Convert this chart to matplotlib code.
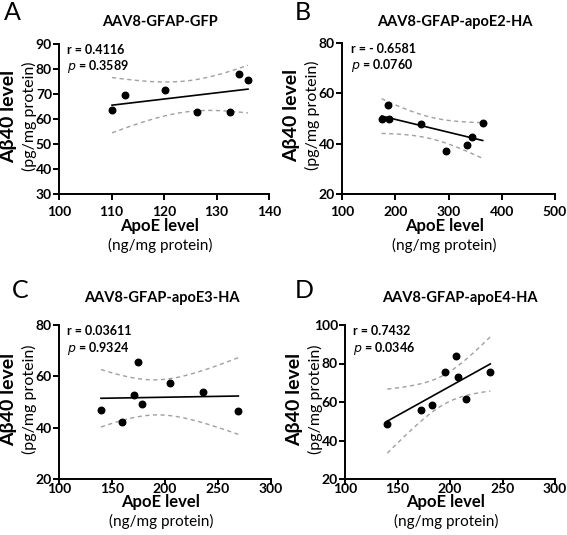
import numpy as np
import matplotlib
matplotlib.use("Agg")
import matplotlib.pyplot as plt

plt.rcParams["font.family"] = ["Lato", "DejaVu Sans"]

# panel A: AAV8-GFAP-GFP
apoe_a = [110.1, 112.6, 120.1, 126.2, 132.5, 134.3, 136.0]
abeta_a = [63.5, 69.6, 71.6, 62.7, 62.7, 78.1, 75.6]
# panel B: AAV8-GFAP-apoE2-HA
apoe_b = [174.3, 186.2, 187.5, 247.7, 296.0, 335.5, 343.7, 364.3]
abeta_b = [49.7, 55.4, 49.7, 47.8, 37.0, 39.5, 42.6, 48.2]
# panel C: AAV8-GFAP-apoE3-HA
apoe_c = [139.6, 159.7, 170.8, 174.2, 178.0, 204.7, 235.8, 269.2]
abeta_c = [47.0, 42.3, 52.6, 65.6, 49.1, 57.4, 53.9, 46.5]
# panel D: AAV8-GFAP-apoE4-HA
apoe_d = [140.3, 172.0, 183.0, 195.6, 205.7, 207.5, 215.7, 238.4]
abeta_d = [48.7, 55.7, 58.3, 75.5, 84.0, 72.9, 61.7, 75.7]

letters = ["A", "B", "C", "D"]
titles = ["AAV8-GFAP-GFP", "AAV8-GFAP-apoE2-HA", "AAV8-GFAP-apoE3-HA", "AAV8-GFAP-apoE4-HA"]
r_text = ["0.4116", "- 0.6581", "0.03611", "0.7432"]
p_text = ["0.3589", "0.0760", "0.9324", "0.0346"]
xlims = [(100, 140), (100, 500), (100, 300), (100, 300)]
xticks = [[100, 110, 120, 130, 140], [100, 200, 300, 400, 500],
          [100, 150, 200, 250, 300], [100, 150, 200, 250, 300]]
ylims = [(30, 90), (20, 80), (20, 80), (20, 100)]
yticks = [[30, 40, 50, 60, 70, 80, 90], [20, 40, 60, 80],
          [20, 40, 60, 80], [20, 40, 60, 80, 100]]

# 95% t critical values by degrees of freedom
t_crit = {5: 2.571, 6: 2.447}

W, H = 567, 535
fig = plt.figure(figsize=(W / 100, H / 100), dpi=100)

# layout in pixels: axes box (left, top, right, bottom), label spots
boxes = [(59, 44, 269, 194), (342, 43, 555, 194),
         (59, 325, 271, 479), (345, 325, 555, 479)]
title_pos = [(160, 22), (455, 22), (162, 298), (460, 298)]
letter_pos = [(4, 12), (295, 12), (12, 290), (295, 290)]
xlab_off = [(32, 51), (32, 51), (23, 42), (23, 42)]
xtick_pad = [5, 5, -1, -1]

data = [(apoe_a, abeta_a), (apoe_b, abeta_b), (apoe_c, abeta_c), (apoe_d, abeta_d)]

for i, (x, y) in enumerate(data):
    l, t, r, b = boxes[i]
    ax = fig.add_axes([l / W, 1 - b / H, (r - l) / W, (b - t) / H])
    x = np.array(x)
    y = np.array(y)

    # linear fit with 95% confidence band
    n = len(x)
    slope, icpt = np.polyfit(x, y, 1)
    xs = np.linspace(x.min(), x.max(), 100)
    yfit = slope * xs + icpt
    resid = y - (slope * x + icpt)
    s = np.sqrt(np.sum(resid ** 2) / (n - 2))
    sxx = np.sum((x - x.mean()) ** 2)
    se = s * np.sqrt(1 / n + (xs - x.mean()) ** 2 / sxx)
    tc = t_crit[n - 2]
    ax.plot(xs, yfit, color="black", lw=1.2, zorder=2)
    ax.plot(xs, yfit + tc * se, color="#a0a0a0", lw=1.0, ls=(0, (3, 2.5)), zorder=1)
    ax.plot(xs, yfit - tc * se, color="#a0a0a0", lw=1.0, ls=(0, (3, 2.5)), zorder=1)
    ax.scatter(x, y, s=22, color="black", zorder=3, clip_on=False)

    ax.set_xlim(*xlims[i])
    ax.set_ylim(*ylims[i])
    ax.set_xticks(xticks[i])
    ax.set_yticks(yticks[i])
    ax.spines["top"].set_visible(False)
    ax.spines["right"].set_visible(False)
    for sp in ["left", "bottom"]:
        ax.spines[sp].set_linewidth(1.4)
    ax.tick_params(direction="out", length=4, width=1.4, labelsize=10, pad=1)
    ax.tick_params(axis="x", pad=xtick_pad[i])
    for lab in ax.get_xticklabels() + ax.get_yticklabels():
        lab.set_fontweight("bold")

    ax.text(0.04, 1.0, "r = " + r_text[i], transform=ax.transAxes,
            fontsize=9, fontweight="bold", va="top", ha="left")
    ax.text(0.04, 0.905, "$\\bf{\\it{p}}$ = " + p_text[i], transform=ax.transAxes,
            fontsize=9, fontweight="bold", va="top", ha="left")

    tx, ty = title_pos[i]
    fig.text(tx / W, 1 - ty / H, titles[i], fontsize=10.5,
             fontweight="bold", ha="center", va="center")
    lx, ly = letter_pos[i]
    fig.text(lx / W, 1 - ly / H, letters[i], fontsize=18,
             ha="left", va="center")
    cy = (t + b) / 2 - 3
    fig.text((l - 50) / W, 1 - cy / H, "A\u03b240 level", fontsize=14,
             fontweight="bold", rotation=90, ha="center", va="center")
    fig.text((l - 30) / W, 1 - cy / H, "(pg/mg protein)", fontsize=11.5,
             rotation=90, ha="center", va="center")
    cx = (l + r) / 2 - 4
    o1, o2 = xlab_off[i]
    fig.text(cx / W, 1 - (b + o1) / H, "ApoE level", fontsize=12,
             fontweight="bold", ha="center", va="center")
    fig.text(cx / W, 1 - (b + o2) / H, "(ng/mg protein)", fontsize=11,
             ha="center", va="center")

fig.savefig("out.png", dpi=100)
